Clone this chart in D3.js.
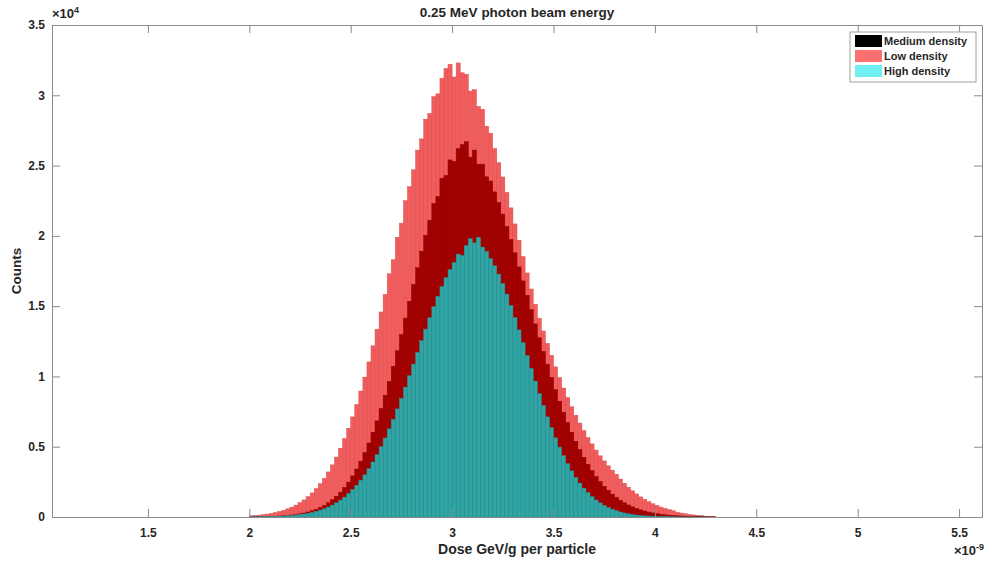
<!DOCTYPE html>
<html>
<head>
<meta charset="utf-8">
<script src="https://cdn.jsdelivr.net/npm/d3@7/dist/d3.min.js"></script>
<style>
  body { margin: 0; background: #fff; }
  svg text { font-family: "Liberation Sans", Arial, sans-serif; font-weight: bold; fill: #262626; }
</style>
</head>
<body>
<svg width="987" height="566"></svg>
<script>
// histogram bins (x in units of 1e-9 GeV/g)
var binStart = 2.0,
    binWidth = 0.02;

// counts per bin
var lowDensity = [
  82, 104, 132, 165, 205, 256, 316, 388, 475, 580,
  700, 845, 1015, 1213, 1443, 1710, 2016, 2366, 2756, 3204,
  3708, 4262, 4883, 5576, 6316, 7120, 8000, 8960, 9950, 11030,
  12175, 13360, 14585, 15840, 17300, 18300, 19900, 20900, 22500, 23500,
  24700, 26100, 26900, 28300, 28700, 29900, 30100, 31200, 31900, 32200,
  31300, 32300, 31600, 31500, 30300, 30400, 29200, 29000, 27800, 27300,
  26210, 25200, 24190, 23090, 21990, 20850, 19690, 18520, 17360, 16220,
  15120, 14140, 13230, 12350, 11500, 10680, 9920, 9170, 8500, 7840,
  7240, 6680, 6140, 5640, 5200, 4760, 4350, 3990, 3640, 3330,
  3040, 2700, 2400, 2120, 1865, 1640, 1430, 1250, 1085, 940,
  815, 705, 607, 520, 445, 340, 280, 230, 185, 150,
  120, 90, 60, 40, 25
];
var mediumDensity = [
  9, 12, 16, 22, 29, 38, 50, 65, 85, 109,
  140, 179, 226, 286, 356, 445, 551, 679, 829, 1011,
  1227, 1474, 1765, 2101, 2480, 2920, 3414, 3968, 4586, 5265,
  6022, 6838, 7712, 8658, 9654, 10725, 11825, 12982, 14152, 15348,
  16544, 17737, 18905, 20036, 21104, 22300, 22800, 24100, 24300, 25400,
  25300, 26200, 26500, 26700, 25600, 26100, 25100, 25100, 24200, 23900,
  23127, 22373, 21549, 20665, 19739, 18793, 17792, 16793, 15769, 14752,
  13733, 12750, 11781, 10858, 9935, 9058, 8237, 7452, 6718, 6027,
  5390, 4794, 4251, 3749, 3297, 2883, 2517, 2181, 1890, 1625,
  1394, 1188, 1011, 855, 723, 606, 507, 424, 351, 289,
  237, 195, 159, 127, 104, 83, 68, 55, 42, 34,
  27, 21, 17, 13, 10
];
var highDensity = [
  9, 11, 15, 19, 25, 33, 42, 54, 69, 87,
  110, 139, 173, 214, 264, 326, 401, 486, 587, 708,
  847, 1009, 1199, 1415, 1664, 1944, 2260, 2611, 3001, 3439,
  3912, 4441, 5004, 5616, 6267, 6954, 7689, 8442, 9241, 10048,
  10874, 11705, 12539, 13365, 14172, 14958, 15691, 16393, 17032, 17605,
  18109, 18700, 18600, 19300, 19800, 19500, 19900, 19200, 18900, 18372,
  17874, 17277, 16600, 15857, 15046, 14189, 13305, 12394, 11474, 10565,
  9665, 8776, 7936, 7120, 6357, 5636, 4974, 4360, 3791, 3285,
  2824, 2413, 2050, 1731, 1451, 1212, 1006, 828, 677, 550,
  446, 357, 286, 226, 179, 141, 110, 85, 66, 50,
  38, 29, 22, 16, 12, 9, 7, 5, 4, 3,
  2, 1, 1, 1, 0
];

var xTicks = [1.5, 2, 2.5, 3, 3.5, 4, 4.5, 5, 5.5];
var yTicks = [0, 5000, 10000, 15000, 20000, 25000, 30000, 35000];
var yTickLabels = ["0", "0.5", "1", "1.5", "2", "2.5", "3", "3.5"];
var legendLabels = ["Medium density", "Low density", "High density"];

var svg = d3.select("svg"),
    margin = {top: 25, right: 5, bottom: 49, left: 52},
    width = +svg.attr("width") - margin.left - margin.right,
    height = +svg.attr("height") - margin.top - margin.bottom,
    g = svg.append("g").attr("transform", "translate(" + margin.left + "," + margin.top + ")");

var x = d3.scaleLinear()
    .domain([1.027, 5.613])
    .range([0, width]);
var y = d3.scaleLinear()
    .domain([0, 35000])
    .range([height, 0]);

var axisColor = "#8a8a8a";

function drawHist(values, fill) {
  g.append("g")
    .selectAll("rect")
    .data(values)
    .enter().append("rect")
      .attr("x", function(d, i) { return x(binStart + i * binWidth); })
      .attr("width", function(d, i) { return x(binStart + (i + 1) * binWidth) - x(binStart + i * binWidth); })
      .attr("y", function(d) { return y(d); })
      .attr("height", function(d) { return height - y(d); })
      .style("fill", fill)
      .style("stroke", d3.color(fill).darker(0.35))
      .style("stroke-width", 0.5);
}

// draw order: widest at the back
drawHist(lowDensity, "#f25c5c");
drawHist(mediumDensity, "#a30000");
drawHist(highDensity, "#2fa5a5");

// axes
var xAxis = g.append("g")
    .attr("transform", "translate(0," + height + ")")
    .call(d3.axisBottom(x).tickValues(xTicks).tickFormat(d3.format("")).tickSizeInner(-8).tickSizeOuter(0).tickPadding(11));
var yAxis = g.append("g")
    .call(d3.axisLeft(y).tickValues(yTicks).tickFormat(function(d, i) { return yTickLabels[i]; }).tickSizeInner(-8).tickSizeOuter(0).tickPadding(7));
g.append("g")
    .call(d3.axisTop(x).tickValues(xTicks).tickFormat("").tickSizeInner(-8).tickSizeOuter(0));
g.append("g")
    .attr("transform", "translate(" + width + ",0)")
    .call(d3.axisRight(y).tickValues(yTicks).tickFormat("").tickSizeInner(-8).tickSizeOuter(0));

g.selectAll(".domain, .tick line").style("stroke", axisColor);
g.selectAll(".tick text").style("font-size", "12px").style("font-family", null).style("fill", "#262626");

// exponents
var e4 = g.append("text").attr("x", 0).attr("y", -7).style("font-size", "13px");
e4.append("tspan").text("\u00d710");
e4.append("tspan").attr("dy", -5).style("font-size", "9px").text("4");

var e9 = g.append("text").attr("x", width - 28).attr("y", height + 38).style("font-size", "13px");
e9.append("tspan").text("\u00d710");
e9.append("tspan").attr("dy", -5).style("font-size", "9px").text("-9");

// titles
svg.append("text")
    .attr("x", margin.left + width / 2)
    .attr("y", 17)
    .attr("text-anchor", "middle")
    .style("font-size", "13.5px")
    .text("0.25 MeV photon beam energy");
svg.append("text")
    .attr("x", margin.left + width / 2)
    .attr("y", 554)
    .attr("text-anchor", "middle")
    .style("font-size", "14px")
    .text("Dose GeV/g per particle");
svg.append("text")
    .attr("transform", "translate(21," + (margin.top + height / 2) + ") rotate(-90)")
    .attr("text-anchor", "middle")
    .style("font-size", "13.5px")
    .text("Counts");

// legend
var legendColors = ["#000000", "#ff7070", "#70f2f2"];
var legend = svg.append("g").attr("transform", "translate(850,32)");
legend.append("rect")
    .attr("width", 126)
    .attr("height", 50)
    .style("fill", "#fff")
    .style("stroke", "#a0a0a0");
legendLabels.forEach(function(label, i) {
  legend.append("rect")
      .attr("x", 5)
      .attr("y", 3 + i * 15)
      .attr("width", 27)
      .attr("height", 12)
      .style("fill", legendColors[i]);
  legend.append("text")
      .attr("x", 34)
      .attr("y", 13 + i * 15)
      .style("font-size", "11px")
      .text(label);
});
</script>
</body>
</html>
